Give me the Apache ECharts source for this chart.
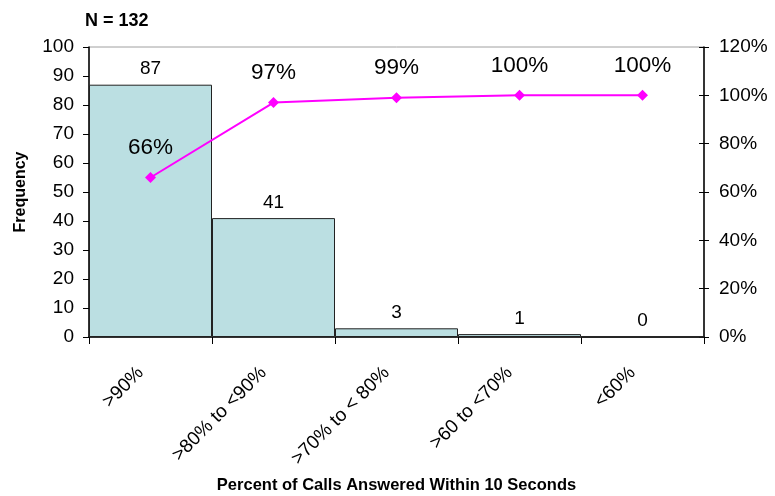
<!DOCTYPE html>
<html>
<head>
<meta charset="utf-8">
<script src="https://cdn.jsdelivr.net/npm/echarts@6/dist/echarts.min.js"></script>
<style>
html,body{margin:0;padding:0;background:#fff;}
#chart{width:775px;height:496px;}
</style>
</head>
<body>
<div id="chart"></div>
<script>
// Call-answer performance bins
const categories = ['>90%', '>80% to <90%', '>70% to < 80%', '>60 to <70%', '<60%'];
const frequency = [87, 41, 3, 1, 0];
const cumulativePct = [66, 97, 99, 100, 100];
const freqTicks = { min: 0, max: 100, interval: 10 };
const pctTicks = { min: 0, max: 120, interval: 20 };

const FONT = 'Liberation Sans, Arial, sans-serif';
const chart = echarts.init(document.getElementById('chart'));

chart.setOption({
  animation: false,
  backgroundColor: '#fff',
  title: {
    text: 'N = 132',
    left: 80, top: 7,
    textStyle: { fontFamily: FONT, fontSize: 18, fontWeight: 'bold', color: '#000' }
  },
  grid: {
    left: 89, right: 71, top: 47, bottom: 159,
    outerBoundsMode: 'none',
    containLabel: false,
    show: true, borderColor: '#a0a0a0', borderWidth: 1, backgroundColor: 'transparent'
  },
  xAxis: {
    type: 'category',
    data: categories,
    boundaryGap: true,
    name: 'Percent of Calls Answered Within 10 Seconds',
    nameLocation: 'middle',
    nameGap: 140,
    nameTextStyle: { fontFamily: FONT, fontSize: 16.5, fontWeight: 'bold', color: '#000' },
    axisLine: { lineStyle: { color: '#000', width: 1.5 } },
    axisTick: { show: true, length: 7, lineStyle: { color: '#000' } },
    axisLabel: {
      interval: 0, rotate: 45, margin: 23,
      padding: [0, 14, 0, 0],
      fontFamily: FONT, fontSize: 19, color: '#000'
    },
    splitLine: { show: false }
  },
  yAxis: [
    {
      type: 'value', position: 'left',
      min: freqTicks.min, max: freqTicks.max, interval: freqTicks.interval,
      name: 'Frequency', nameLocation: 'middle', nameGap: 60,
      nameTextStyle: { fontFamily: FONT, fontSize: 16, fontWeight: 'bold', color: '#000' },
      axisLine: { show: true, lineStyle: { color: '#000', width: 1.5 } },
      axisTick: { show: true, length: 6, lineStyle: { color: '#000' } },
      axisLabel: { fontFamily: FONT, fontSize: 19, color: '#000', margin: 15 },
      splitLine: { show: false }
    },
    {
      type: 'value', position: 'right',
      min: pctTicks.min, max: pctTicks.max, interval: pctTicks.interval,
      axisLine: { show: true, lineStyle: { color: '#000', width: 1.5 } },
      axisTick: { show: true, length: 5, lineStyle: { color: '#000' } },
      axisLabel: { fontFamily: FONT, fontSize: 19, color: '#000', margin: 15, formatter: '{value}%' },
      splitLine: { show: false }
    },
    {
      // inner half of the crossing ticks on the right axis
      type: 'value', position: 'right',
      min: pctTicks.min, max: pctTicks.max, interval: pctTicks.interval,
      axisLine: { show: false },
      axisTick: { show: true, inside: true, length: 5, lineStyle: { color: '#000' } },
      axisLabel: { show: false },
      splitLine: { show: false }
    }
  ],
  series: [
    {
      type: 'bar',
      data: frequency,
      yAxisIndex: 0,
      barCategoryGap: '0%',
      itemStyle: { color: '#bbdfe2', borderColor: '#222', borderWidth: 1 },
      label: {
        show: true, position: 'top', distance: 6,
        fontFamily: FONT, fontSize: 19, color: '#000'
      },
      z: 2
    },
    {
      type: 'line',
      data: cumulativePct,
      yAxisIndex: 1,
      symbol: 'diamond',
      symbolSize: 11,
      lineStyle: { color: '#ff00ff', width: 2 },
      itemStyle: { color: '#ff00ff' },
      label: {
        show: true, position: 'top', distance: 13,
        fontFamily: FONT, fontSize: 22.5, color: '#000',
        formatter: '{c}%'
      },
      z: 3
    }
  ]
});
</script>
</body>
</html>
